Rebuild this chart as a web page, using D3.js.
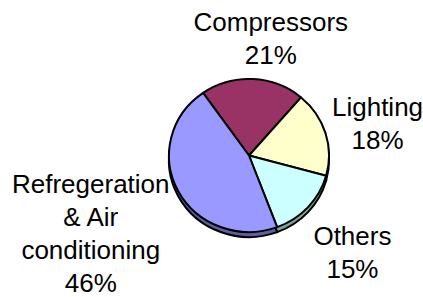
<!DOCTYPE html>
<html>
<head>
<meta charset="utf-8">
<script src="https://cdn.jsdelivr.net/npm/d3@7"></script>
<style>
  html, body { margin: 0; padding: 0; background: #fff; }
  svg { display: block; }
  text { font-family: "Liberation Sans", Arial, sans-serif; fill: #000; }
</style>
</head>
<body>
<div id="chart"></div>
<script>
// Data
const categories = ['Compressors', 'Lighting', 'Others', 'Refregeration\n& Air\nconditioning'];
const shares = [21, 18, 15, 46];
const colors = ['#993366', '#ffffcc', '#ccffff', '#9999ff'];

// Layout
let width = 423, height = 297;
let cx = 249, cy = 155.5, rx = 80, ry = 76.5, depth = 5;
let startAngle = -35 * Math.PI / 180;
let fontSize = 26, lineGap = 33;
// label block distance from pie centre (x, y) and per label nudges
let labelRx = 160, labelRy = 115;
let labelNudge = [[14, -1.6], [-24.5, 2], [-14.7, 20], [-16.7, 25.5]];

const svg = d3.select('#chart')
    .append('svg')
    .attr('width', width)
    .attr('height', height);

let pie = d3.pie()
    .sort(null)
    .value(d => d)
    .startAngle(startAngle)
    .endAngle(startAngle + 2 * Math.PI);

let arcs = pie(shares);

let arc = d3.arc()
    .innerRadius(0)
    .outerRadius(rx);

// side of the disc (shifted copy, darker)
let sideFace = svg.append('g')
    .attr('transform', 'translate(' + cx + ',' + (cy + depth) + ') scale(1,' + (ry / rx) + ')');

sideFace.selectAll('path')
    .data(arcs).enter()
    .append('path')
    .attr('d', arc)
    .attr('fill', (d, i) => d3.rgb(colors[i]).darker(1.3))
    .attr('stroke', '#000')
    .attr('stroke-width', 2)
    .attr('vector-effect', 'non-scaling-stroke');

// top face
let topFace = svg.append('g')
    .attr('transform', 'translate(' + cx + ',' + cy + ') scale(1,' + (ry / rx) + ')');

topFace.selectAll('path')
    .data(arcs).enter()
    .append('path')
    .attr('d', arc)
    .attr('fill', (d, i) => colors[i])
    .attr('stroke', '#000')
    .attr('stroke-width', 2)
    .attr('stroke-linejoin', 'round')
    .attr('vector-effect', 'non-scaling-stroke');

// labels
let labels = svg.append('g');

arcs.forEach((d, i) => {
    let mid = (d.startAngle + d.endAngle) / 2;
    let lines = categories[i].split('\n').concat([d.data + '%']);
    let bx = cx + Math.sin(mid) * labelRx + labelNudge[i][0];
    let by = cy - Math.cos(mid) * labelRy + labelNudge[i][1];
    let first = by - (lines.length - 1) * lineGap / 2 + 8.3;
    lines.forEach((t, j) => {
        labels.append('text')
            .attr('x', bx)
            .attr('y', first + j * lineGap)
            .attr('text-anchor', 'middle')
            .style('font-size', fontSize + 'px')
            .text(t);
    });
});
</script>
</body>
</html>
